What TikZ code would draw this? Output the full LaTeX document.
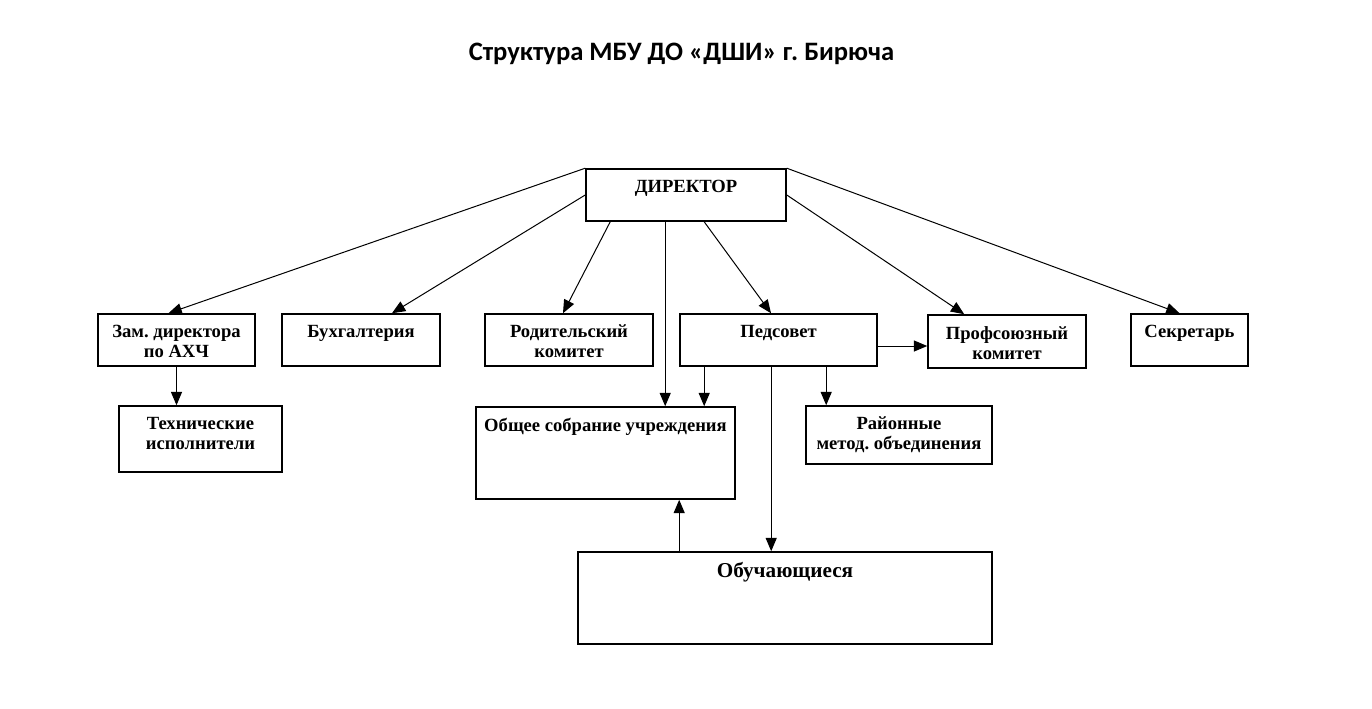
\documentclass[tikz,border=0pt]{standalone}
\usepackage{fontspec}
\setmainfont{Liberation Serif}
\newfontfamily\titlefont{Carlito}
\usepackage{tikz}
\usetikzlibrary{arrows}
\frenchspacing

\begin{document}
\begin{tikzpicture}[x=0.5pt,y=-0.5pt,
		blok/.style={draw,line width=0.8pt,inner sep=0pt},
		lbl/.style={anchor=north,inner sep=0pt,yshift=-5.75pt,align=center,
			font=\bfseries\fontsize{9.3}{10}\selectfont},
		arr/.style={-triangle 45,line width=0.5pt}]
	\useasboundingbox (0,0) rectangle (1372,708);
	\node[anchor=base,font=\titlefont\bfseries\fontsize{13.3}{15}\selectfont] (title) at (681.5,60.5) {Структура МБУ ДО «ДШИ» г. Бирюча};
	% first row
	\node[blok,minimum width=100pt,minimum height=26pt,label={[lbl]north:ДИРЕКТОР}] (D) at (686,195) {};
	\node[blok,minimum width=78.5pt,minimum height=26pt,label={[lbl]north:{Зам. директора\\по АХЧ}}] (Z) at (176.5,340) {};
	\node[blok,minimum width=79pt,minimum height=26pt,label={[lbl]north:Бухгалтерия}] (B) at (361,340) {};
	\node[blok,minimum width=84pt,minimum height=26pt,label={[lbl]north:{Родительский\\комитет}}] (R) at (569,340) {};
	\node[blok,minimum width=98.5pt,minimum height=26pt,label={[lbl]north:Педсовет}] (P) at (778.5,340) {};
	\node[blok,minimum width=79pt,minimum height=26.5pt,label={[lbl]north:{Профсоюзный\\комитет}}] (K) at (1007,341.5) {};
	\node[blok,minimum width=58.5pt,minimum height=26pt,label={[lbl]north:Секретарь}] (S) at (1189.5,340) {};
	% second row
	\node[blok,minimum width=81.5pt,minimum height=33pt,label={[lbl]north:{Технические\\исполнители}}] (T) at (200.5,439) {};
	\node[blok,minimum width=129.5pt,minimum height=46pt,label={[lbl]north:Общее собрание учреждения}] (O) at (605.5,453) {};
	\node[blok,minimum width=93pt,minimum height=29pt,label={[lbl]north:{Районные\\метод. объединения}}] (M) at (899,435) {};
	\node[blok,minimum width=207pt,minimum height=46pt,label={[lbl,yshift=0.4pt,font=\bfseries\fontsize{10.6}{12}\selectfont]north:Обучающиеся}] (U) at (785,598) {};
	% connectors
	\draw[arr] (D.north west) -- ([xshift=-4pt]Z.north);
	\draw[arr] (D.west) -- ([xshift=15.5pt]B.north);
	\draw[arr] ([xshift=12.5pt]D.south west) -- ([xshift=-3pt]R.north);
	\draw[arr] ([xshift=40pt]D.south west) coordinate (a) -- (a |- O.north);
	\draw[arr] ([xshift=59.5pt]D.south west) -- ([xshift=-3.75pt]P.north);
	\draw[arr] (D.east) -- ([xshift=18.5pt]K.north west);
	\draw[arr] (D.north east) -- ([xshift=-5pt]S.north);
	\draw[arr] (Z.south) -- (Z.south |- T.north);
	\draw[arr] ([xshift=12.5pt]P.south west) coordinate (b) -- (b |- O.north);
	\draw[arr] ([xshift=46pt]P.south west) coordinate (c) -- (c |- U.north);
	\draw[arr] ([xshift=73.5pt]P.south west) coordinate (d) -- (d |- M.north);
	\draw[arr] ([yshift=-3pt]P.east) coordinate (e) -- (e -| K.west);
	\draw[arr] (P.south west |- U.north) -- (P.south west |- O.south);
\end{tikzpicture}
\end{document}
